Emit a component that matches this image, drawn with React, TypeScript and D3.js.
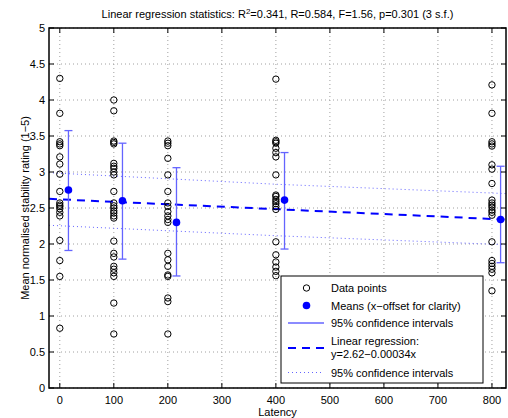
import React from "react";
import * as d3 from "d3";

const latencies = [0, 100, 200, 400, 800];
const ratingsAt0 = [4.3, 3.815, 3.42, 3.39, 3.365, 3.21, 3.11, 2.97, 2.73, 2.57, 2.54, 2.52, 2.49, 2.44, 2.39, 2.05, 1.77, 1.55, 0.83];
const ratingsAt100 = [4.0, 3.85, 3.43, 3.41, 3.39, 3.12, 3.08, 3.05, 3.0, 2.96, 2.73, 2.57, 2.53, 2.5, 2.46, 2.43, 2.39, 2.36, 2.04, 1.87, 1.82, 1.69, 1.65, 1.6, 1.55, 1.18, 0.75];
const ratingsAt200 = [3.43, 3.4, 3.365, 3.19, 2.96, 2.73, 2.57, 2.52, 2.45, 2.39, 2.34, 2.3, 1.87, 1.78, 1.69, 1.57, 1.55, 1.25, 1.2, 0.75];
const ratingsAt400 = [4.29, 3.44, 3.42, 3.4, 3.33, 3.27, 3.21, 2.96, 2.68, 2.66, 2.62, 2.59, 2.56, 2.52, 2.48, 2.03, 1.85, 1.75, 1.68, 1.62, 1.56];
const ratingsAt800 = [4.21, 3.815, 3.42, 3.39, 3.36, 3.1, 3.04, 2.84, 2.61, 2.57, 2.54, 2.51, 2.47, 2.44, 2.4, 2.03, 1.77, 1.73, 1.69, 1.65, 1.6, 1.35];
const ratingsByLatency = [ratingsAt0, ratingsAt100, ratingsAt200, ratingsAt400, ratingsAt800];

const meanOffset = 16;
const means = [2.75, 2.6, 2.3, 2.61, 2.34];
const ciLow = [1.91, 1.79, 1.556, 1.93, 1.74];
const ciHigh = [3.575, 3.4, 3.06, 3.27, 3.08];

const regIntercept = 2.62;
const regSlope = -0.00034;
const bandX = [-20, 400, 826];
const bandUpper = [2.99, 2.83, 2.7];
const bandLower = [2.26, 2.115, 1.99];

const xTicks = [0, 100, 200, 300, 400, 500, 600, 700, 800];
const yTicks = [0, 0.5, 1, 1.5, 2, 2.5, 3, 3.5, 4, 4.5, 5];
const xDomain = [-20, 826];
const yDomain = [0, 5];

const FONT = "'Liberation Sans', Arial, Helvetica, sans-serif";
const BLUE = "#0000ff";
const LIGHT = "#6464ff";

export default function App() {
  const left = 49, right = 506, top = 28, bottom = 388;
  const x = d3.scaleLinear().domain(xDomain).range([left, right]);
  const y = d3.scaleLinear().domain(yDomain).range([bottom, top]);
  const regLine = d3.line<number>().x((v) => x(v)).y((v) => y(regIntercept + regSlope * v));
  const bandUp = d3.line<number>().x((v) => x(v)).y((_, i) => y(bandUpper[i]));
  const bandLo = d3.line<number>().x((v) => x(v)).y((_, i) => y(bandLower[i]));
  const tl = 5;
  const lx = 281, ly = 276, lw = 202, lh = 107;
  const symX = 306.5, textX = 331;
  return (
    <svg width={508} height={418} style={{ position: "absolute", left: 0, top: 0, background: "#fff" }} fontFamily={FONT}>
      <rect x={0} y={0} width={508} height={418} fill="#fff" />
      {/* grid */}
      {xTicks.map((t) => (
        <line key={"gx" + t} x1={x(t)} x2={x(t)} y1={top} y2={bottom} stroke="#a0a0a0" strokeWidth={1} strokeDasharray="1,3" />
      ))}
      {yTicks.map((t) => (
        <line key={"gy" + t} x1={left} x2={right} y1={y(t)} y2={y(t)} stroke="#a0a0a0" strokeWidth={1} strokeDasharray="1,3" />
      ))}
      {/* CI band lines */}
      <path d={bandUp(bandX) || ""} fill="none" stroke={LIGHT} strokeWidth={1} strokeDasharray="1,3" />
      <path d={bandLo(bandX) || ""} fill="none" stroke={LIGHT} strokeWidth={1} strokeDasharray="1,3" />
      {/* regression */}
      <path d={regLine(xDomain) || ""} fill="none" stroke={BLUE} strokeWidth={2} strokeDasharray="8,6" />
      {/* data points */}
      {ratingsByLatency.map((arr, i) =>
        arr.map((v, j) => (
          <circle key={"p" + i + "_" + j} cx={x(latencies[i])} cy={y(v)} r={3.2} fill="none" stroke="#000" strokeWidth={1} />
        ))
      )}
      {/* error bars */}
      {latencies.map((l, i) => {
        const cx = x(l + meanOffset);
        return (
          <g key={"e" + i} stroke={LIGHT} strokeWidth={1.3}>
            <line x1={cx} x2={cx} y1={y(ciLow[i])} y2={y(ciHigh[i])} />
            <line x1={cx - 4} x2={cx + 4} y1={y(ciLow[i])} y2={y(ciLow[i])} />
            <line x1={cx - 4} x2={cx + 4} y1={y(ciHigh[i])} y2={y(ciHigh[i])} />
          </g>
        );
      })}
      {means.map((m, i) => (
        <circle key={"m" + i} cx={x(latencies[i] + meanOffset)} cy={y(m)} r={3.8} fill={BLUE} />
      ))}
      {/* axes box */}
      <rect x={left} y={top} width={right - left} height={bottom - top} fill="none" stroke="#000" strokeWidth={1.5} />
      {xTicks.map((t) => (
        <g key={"xt" + t}>
          <line x1={x(t)} x2={x(t)} y1={bottom} y2={bottom - tl} stroke="#000" />
          <line x1={x(t)} x2={x(t)} y1={top} y2={top + tl} stroke="#000" />
          <text x={x(t)} y={404} fontSize={11} textAnchor="middle" fill="#000">{t}</text>
        </g>
      ))}
      {yTicks.map((t) => (
        <g key={"yt" + t}>
          <line x1={left} x2={left + tl} y1={y(t)} y2={y(t)} stroke="#000" />
          <line x1={right} x2={right - tl} y1={y(t)} y2={y(t)} stroke="#000" />
          <text x={45} y={y(t) + 4} fontSize={11} textAnchor="end" fill="#000">{t}</text>
        </g>
      ))}
      {/* labels */}
      <text x={(left + right) / 2} y={18} fontSize={11} textAnchor="middle" fill="#000">
        Linear regression statistics: R<tspan dy={-4} fontSize={8}>2</tspan><tspan dy={4}>=0.341, R=0.584, F=1.56, p=0.301 (3 s.f.)</tspan>
      </text>
      <text x={(left + right) / 2} y={416} fontSize={11} textAnchor="middle" fill="#000">Latency</text>
      <text transform={`translate(29,${(top + bottom) / 2}) rotate(-90)`} fontSize={11} textAnchor="middle" fill="#000">
        Mean normalised stability rating (1−5)
      </text>
      {/* legend */}
      <rect x={lx} y={ly} width={lw} height={lh} fill="#fff" stroke="#000" strokeWidth={1} />
      <circle cx={symX} cy={288} r={3.2} fill="none" stroke="#000" />
      <text x={textX} y={292} fontSize={11} fill="#000">Data points</text>
      <circle cx={symX} cy={305.5} r={3.8} fill={BLUE} />
      <text x={textX} y={309.5} fontSize={11} fill="#000">Means (x−offset for clarity)</text>
      <line x1={288} x2={324} y1={323} y2={323} stroke={LIGHT} strokeWidth={1.3} />
      <text x={textX} y={327} fontSize={11} fill="#000">95% confidence intervals</text>
      <line x1={288} x2={324} y1={348} y2={348} stroke={BLUE} strokeWidth={2} strokeDasharray="8,6" />
      <text x={textX} y={345} fontSize={11} fill="#000">Linear regression:</text>
      <text x={textX} y={358} fontSize={11} fill="#000">y=2.62−0.00034x</text>
      <line x1={288} x2={324} y1={372.5} y2={372.5} stroke={LIGHT} strokeWidth={1} strokeDasharray="1,3" />
      <text x={textX} y={376.5} fontSize={11} fill="#000">95% confidence intervals</text>
    </svg>
  );
}
